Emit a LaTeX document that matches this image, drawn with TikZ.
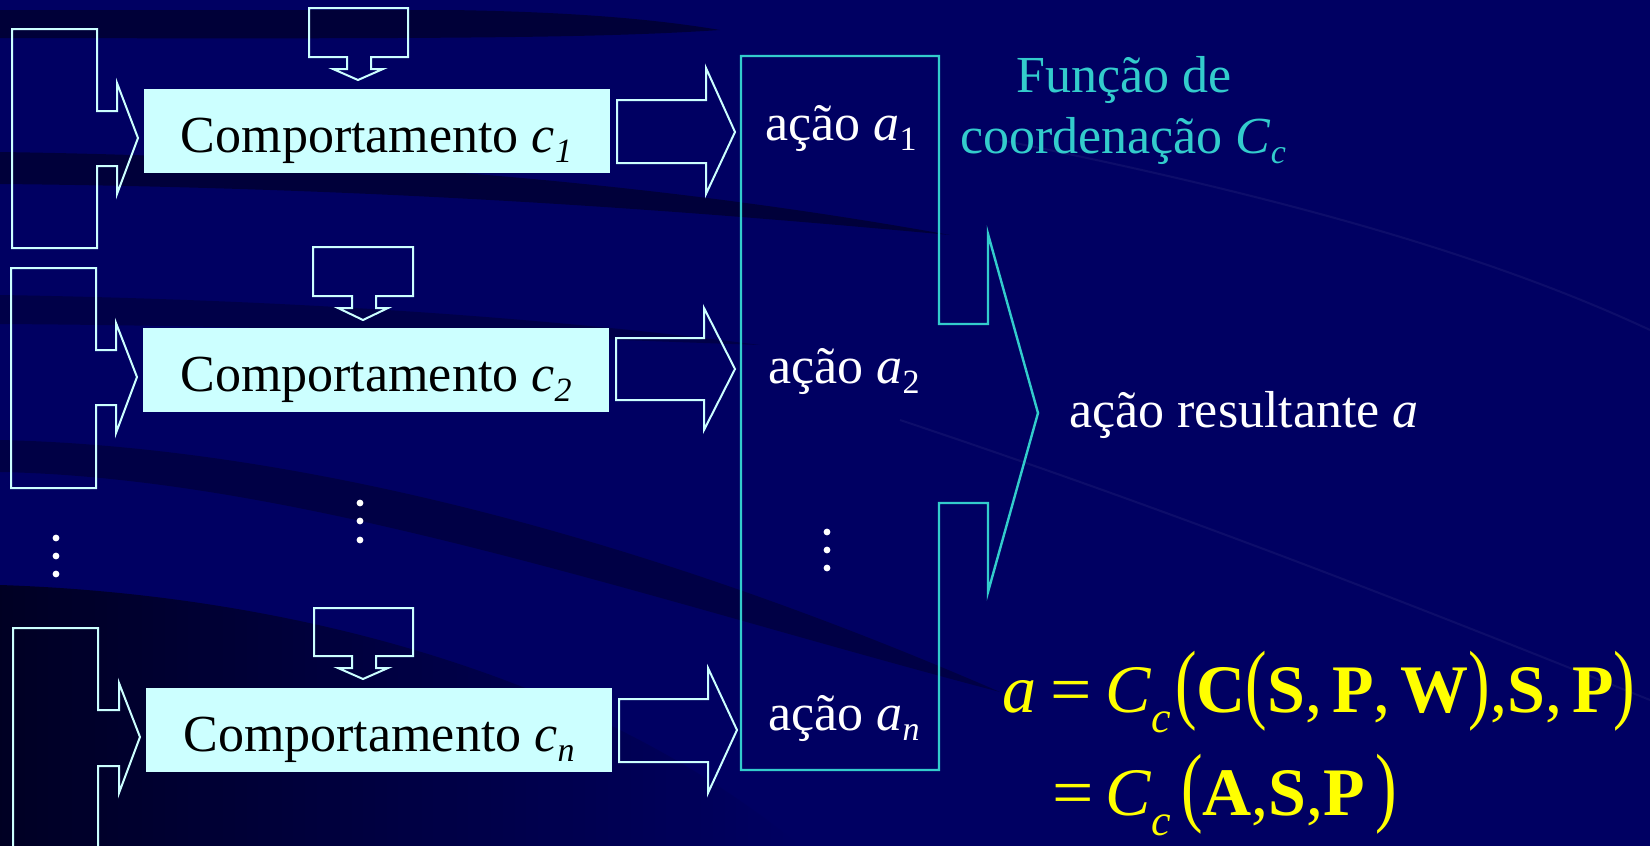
\documentclass[tikz,border=0pt]{standalone}
\usepackage{fontspec}
\setmainfont{Liberation Serif}
\usepackage{graphicx}
\definecolor{bg}{RGB}{0,0,98}
\definecolor{bgdark}{RGB}{0,0,42}
\definecolor{boxfill}{RGB}{204,255,255}
\definecolor{outl}{RGB}{204,255,255}
\definecolor{cyanc}{RGB}{51,204,204}
\definecolor{yel}{RGB}{255,255,0}
\newcommand\isub[1]{\raisebox{-5pt}{\fontsize{17}{17}\selectfont\itshape #1}}
\newcommand\usub[1]{\raisebox{-5pt}{\fontsize{17}{17}\selectfont\upshape #1}}
\newcommand\fsub[1]{\raisebox{-10pt}{\fontsize{22}{22}\selectfont\itshape #1}}
\newcommand\bp[1]{\scalebox{0.95}[1.3]{#1}}
\newcommand\feq{\scalebox{1.08}[1]{=}}
\tikzset{
  outline/.style={draw=outl, line width=1pt, line join=miter},
  cyanline/.style={draw=cyanc, line width=1.2pt, line join=miter},
  cbox/.style={fill=boxfill, inner sep=0pt, minimum width=233pt, minimum height=42pt,
    text height=31.5pt, text depth=10.5pt, font=\fontsize{26}{26}\selectfont, text=black},
  wtext/.style={inner sep=0pt, anchor=base west, text=white, font=\fontsize{26}{26}\selectfont},
  ctext/.style={inner sep=0pt, text=cyanc, font=\fontsize{26}{30.5}\selectfont, align=center},
  ftext/.style={inner sep=0pt, anchor=base west, text=yel, font=\fontsize{34}{34}\selectfont},
  dotmark/.style={fill=white}
}
\begin{document}
\begin{tikzpicture}[x=0.5pt,y=-0.5pt]
\useasboundingbox (0,0) rectangle (1650,846);
\clip (0,0) rectangle (1650,846);
% background
\fill[bg] (0,0) rectangle (1650,846);
\fill[bgdark, opacity=0.75] (0,10) -- (450,10) .. controls (580,12) and (660,20) .. (720,30) .. controls (600,38) and (450,39) .. (0,38) -- cycle;
\fill[bgdark, opacity=0.7] (0,152) .. controls (400,158) and (700,190) .. (950,235) .. controls (700,212) and (400,188) .. (0,184) -- cycle;
\fill[bgdark, opacity=0.45] (0,295) .. controls (300,300) and (550,318) .. (760,345) .. controls (500,336) and (300,326) .. (0,324) -- cycle;
\fill[bgdark, opacity=0.5] (0,440) .. controls (300,447) and (650,540) .. (1000,692) .. controls (650,600) and (300,478) .. (0,472) -- cycle;
\shade[left color=bgdark!70!black, right color=bg, opacity=0.9] (0,585) .. controls (300,595) and (600,680) .. (800,846) -- (0,846) -- cycle;
\draw[white, opacity=0.05, line width=1pt] (1000,140) .. controls (1300,200) and (1500,260) .. (1650,330);
\draw[white, opacity=0.05, line width=1pt] (900,420) .. controls (1200,520) and (1450,620) .. (1650,700);

% left bracket arrows
\draw[outline] (12,29) -- (97,29) -- (97,111) -- (117,111) -- (117,83) -- (138,138) -- (117,194) -- (117,166) -- (97,166) -- (97,248) -- (12,248) -- cycle;
\draw[outline] (11,268) -- (96,268) -- (96,350) -- (116,350) -- (116,323) -- (137,377) -- (116,433) -- (116,405) -- (96,405) -- (96,488) -- (11,488) -- cycle;
\draw[outline] (13,628) -- (98,628) -- (98,710) -- (119,710) -- (119,683) -- (140,737) -- (119,793) -- (119,766) -- (98,766) -- (98,880) -- (13,880) -- cycle;

% top down arrows
\draw[outline] (309,8) -- (408,8) -- (408,57) -- (371,57) -- (371,69) -- (383,69) -- (358,80) -- (333,69) -- (347,69) -- (347,57) -- (309,57) -- cycle;
\draw[outline] (313,247) -- (413,247) -- (413,296) -- (376,296) -- (376,308) -- (388,308) -- (363,320) -- (338,308) -- (352,308) -- (352,296) -- (313,296) -- cycle;
\draw[outline] (314,608) -- (413,608) -- (413,656) -- (376,656) -- (376,668) -- (388,668) -- (363,679) -- (338,668) -- (352,668) -- (352,656) -- (314,656) -- cycle;

% behaviour boxes
\node[cbox] (b1) at (376.5,131) {Comportamento \textit{c}\isub{1}};
\node[cbox] (b2) at (376,370) {Comportamento \textit{c}\isub{2}};
\node[cbox] (bn) at (379,730) {Comportamento \textit{c}\isub{n}};

% right arrows
\draw[outline] (617,100) -- (706,100) -- (706,68) -- (735,132) -- (706,194) -- (706,163) -- (617,163) -- cycle;
\draw[outline] (616,338) -- (704,338) -- (704,308) -- (735,369) -- (704,430) -- (704,400) -- (616,400) -- cycle;
\draw[outline] (619,699) -- (708,699) -- (708,668) -- (737,730) -- (708,793) -- (708,762) -- (619,762) -- cycle;

% coordination box with output arrow
\draw[cyanline] (741,56) -- (939,56) -- (939,324) -- (988,324) -- (988,234) -- (1038,413) -- (988,592) -- (988,503) -- (939,503) -- (939,770) -- (741,770) -- cycle;

% actions
\node[wtext] (a1) at (765,140) {ação \textit{a}\usub{1}};
\node[wtext] (a2) at (768,383) {ação \textit{a}\usub{2}};
\node[wtext] (an) at (768,730) {ação \textit{a}\isub{n}};
\node[wtext] (ar) at (1069,427) {ação resultante \textit{a}};

% title
\node[ctext, anchor=base] (t1) at (1124,92) {Função de};
\node[ctext, anchor=base] (t2) at (1123,153) {coordenação \textit{C}\isub{c}};

% dots
\foreach \y in {538,556,574} \fill[dotmark] (56,\y) circle[radius=1.7pt];
\foreach \y in {503,521,540} \fill[dotmark] (360,\y) circle[radius=1.7pt];
\foreach \y in {532,550,568} \fill[dotmark] (827,\y) circle[radius=1.7pt];

% formula
\node[ftext] (f1) at (1002,712) {\textit{a}\hspace{7pt}\feq\hspace{7pt}\textit{C}\fsub{c}\hspace{2pt}\bp{(}\textbf{C}\bp{(}\textbf{S},\hspace{5pt}\textbf{P},\hspace{5pt}\textbf{W}\bp{)},\textbf{S},\hspace{5pt}\textbf{P}\bp{)}};
\node[ftext] (f2) at (1052,815) {\feq\hspace{6pt}\textit{C}\fsub{c}\hspace{5pt}\bp{(}\textbf{A},\textbf{S},\textbf{P}\hspace{5pt}\bp{)}};
\end{tikzpicture}
\end{document}
